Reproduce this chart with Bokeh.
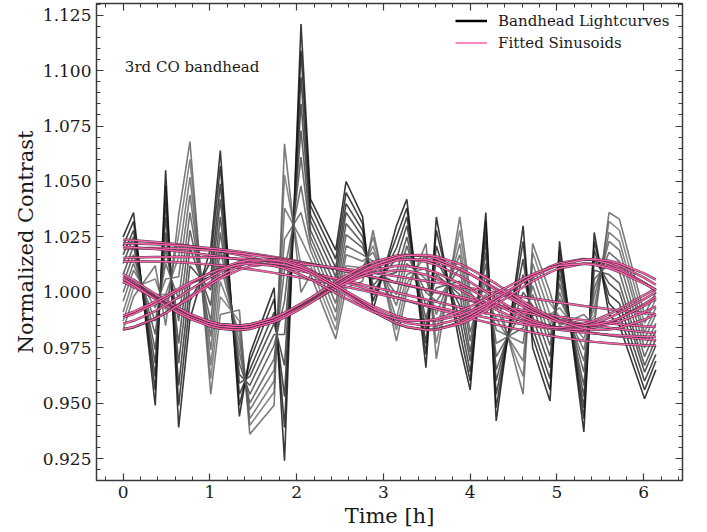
import numpy as np
from bokeh.plotting import figure
from bokeh.models import (Range1d, SingleIntervalTicker, LinearAxis, NumeralTickFormatter,
                          CustomJSTickFormatter, Label, Legend, LegendItem)
from bokeh.embed import file_html
from bokeh.resources import INLINE

# ---------------- data ----------------
times = [0.00, 0.12, 0.37, 0.49, 0.64, 0.77, 1.01, 1.12, 1.34, 1.46, 1.74, 1.86,
         2.05, 2.16, 2.45, 2.57, 2.76, 2.88, 3.15, 3.27, 3.49, 3.61, 3.88, 4.00,
         4.18, 4.30, 4.61, 4.72, 4.92, 5.03, 5.31, 5.43, 5.60, 5.72, 6.01, 6.14]

lc_01 = [1.025, 1.036, 0.949, 1.055, 0.939, 0.988, 1.020, 1.064, 0.944, 0.972, 1.002, 0.924,
         1.121, 1.042, 1.019, 1.050, 1.034, 0.992, 1.030, 1.042, 0.966, 1.034, 0.976, 0.956,
         1.036, 0.942, 1.030, 0.975, 0.951, 1.023, 0.937, 1.027, 0.990, 0.985, 0.952, 0.965]
lc_02 = [1.021, 1.032, 0.956, 1.048, 0.949, 0.996, 1.014, 1.057, 0.949, 0.969, 0.997, 0.939,
         1.109, 1.039, 1.015, 1.045, 1.031, 0.996, 1.025, 1.038, 0.972, 1.028, 0.982, 0.960,
         1.032, 0.948, 1.023, 0.980, 0.956, 1.019, 0.943, 1.023, 0.995, 0.990, 0.956, 0.969]
lc_03 = [1.017, 1.028, 0.962, 1.041, 0.958, 1.004, 1.007, 1.049, 0.954, 0.965, 0.991, 0.953,
         1.097, 1.035, 1.011, 1.040, 1.028, 0.999, 1.020, 1.034, 0.977, 1.021, 0.988, 0.964,
         1.027, 0.954, 1.015, 0.984, 0.961, 1.015, 0.948, 1.019, 0.999, 0.995, 0.960, 0.972]
lc_04 = [1.013, 1.025, 0.968, 1.034, 0.968, 1.012, 1.001, 1.042, 0.959, 0.962, 0.986, 0.967,
         1.085, 1.032, 1.007, 1.036, 1.025, 1.003, 1.015, 1.030, 0.983, 1.015, 0.994, 0.969,
         1.023, 0.960, 1.008, 0.989, 0.966, 1.012, 0.953, 1.015, 1.004, 1.000, 0.964, 0.976]
lc_05 = [1.008, 1.021, 0.974, 1.027, 0.977, 1.020, 0.994, 1.034, 0.963, 0.958, 0.981, 0.981,
         1.073, 1.028, 1.003, 1.031, 1.022, 1.006, 1.009, 1.025, 0.988, 1.008, 0.999, 0.973,
         1.018, 0.965, 1.000, 0.994, 0.971, 1.008, 0.958, 1.010, 1.008, 1.004, 0.967, 0.979]
lc_06 = [1.004, 1.017, 0.981, 1.020, 0.987, 1.028, 0.987, 1.027, 0.968, 0.954, 0.976, 0.996,
         1.061, 1.025, 0.999, 1.026, 1.020, 1.010, 1.004, 1.021, 0.994, 1.002, 1.005, 0.978,
         1.013, 0.971, 0.992, 0.999, 0.976, 1.004, 0.964, 1.006, 1.013, 1.009, 0.971, 0.983]
lc_07 = [1.000, 1.013, 0.987, 1.013, 0.997, 1.036, 0.980, 1.020, 0.973, 0.950, 0.970, 1.010,
         1.048, 1.022, 0.995, 1.021, 1.017, 1.014, 0.999, 1.017, 1.000, 0.996, 1.011, 0.982,
         1.008, 0.977, 0.984, 1.003, 0.980, 1.000, 0.969, 1.002, 1.018, 1.014, 0.975, 0.986]
lc_08 = [0.996, 1.010, 0.993, 1.006, 1.007, 1.044, 0.974, 1.013, 0.978, 0.947, 0.965, 1.024,
         1.036, 1.019, 0.991, 1.017, 1.014, 1.018, 0.994, 1.013, 1.006, 0.990, 1.017, 0.987,
         1.004, 0.983, 0.977, 1.008, 0.985, 0.997, 0.974, 0.998, 1.023, 1.019, 0.979, 0.990]
lc_09 = [0.991, 1.006, 0.999, 0.999, 1.016, 1.052, 0.967, 1.005, 0.982, 0.943, 0.960, 1.038,
         1.024, 1.015, 0.987, 1.012, 1.011, 1.021, 0.988, 1.008, 1.011, 0.983, 1.022, 0.991,
         0.999, 0.988, 0.969, 1.013, 0.990, 0.993, 0.979, 0.993, 1.027, 1.023, 0.982, 0.993]
lc_10 = [0.987, 1.002, 1.006, 0.992, 1.026, 1.060, 0.961, 0.998, 0.987, 0.940, 0.955, 1.053,
         1.012, 1.012, 0.983, 1.007, 1.008, 1.025, 0.983, 1.004, 1.017, 0.977, 1.028, 0.996,
         0.995, 0.994, 0.962, 1.018, 0.995, 0.989, 0.985, 0.989, 1.032, 1.028, 0.986, 0.997]
lc_11 = [0.983, 0.998, 1.012, 0.985, 1.035, 1.068, 0.954, 0.990, 0.992, 0.936, 0.949, 1.067,
         1.000, 1.008, 0.979, 1.002, 1.005, 1.028, 0.978, 1.000, 1.022, 0.970, 1.034, 1.000,
         0.990, 1.000, 0.954, 1.022, 1.000, 0.985, 0.990, 0.985, 1.036, 1.033, 0.990, 1.000]

lightcurves = [lc_01, lc_02, lc_03, lc_04, lc_05, lc_06, lc_07, lc_08, lc_09, lc_10, lc_11]
lc_colors = ["#000000", "#0d0d0d", "#1a1a1a", "#262626", "#333333", "#3f3f3f",
             "#4a4a4a", "#555555", "#5f5f5f", "#686868", "#555555"]

# fitted sinusoid parameters: offset + amp * cos(2*pi*(t - t_max)/period)
sin_offset = [1.000, 1.001, 1.002, 0.999, 1.002, 0.997,
              0.999, 1.000, 0.998, 1.001, 0.997, 1.000,
              1.000, 0.999, 1.001, 0.998, 1.000]
sin_amp = [0.024, 0.021, 0.018, 0.022, 0.014, 0.017,
           0.016, 0.015, 0.014, 0.016, 0.013, 0.017,
           0.015, 0.016, 0.014, 0.015, 0.013]
sin_period = [13.0, 14.0, 12.5, 15.0, 13.5, 12.0,
              3.9, 4.1, 3.8, 4.0, 3.7, 4.2,
              3.7, 3.6, 3.8, 3.65, 3.75]
sin_tmax = [-0.3, 0.0, 0.3, -0.5, 0.6, 0.2,
            3.25, 3.35, 3.20, 3.30, 3.15, 3.40,
            5.35, 5.30, 5.40, 5.35, 5.25]

x_ticks_interval = 1
y_ticks_interval = 0.025

PINK = "#ff5fae"
FONT = "DejaVu Serif"
FRAME = "#3a3a3a"
TXT = "#1a1a1a"

# ---------------- figure ----------------
p = figure(width=699, height=530, output_backend="svg", toolbar_location=None,
           x_range=Range1d(-0.307, 6.447), y_range=Range1d(0.9151, 1.1303),
           min_border_left=96, min_border_right=17, min_border_top=3, min_border_bottom=50)
p.xgrid.visible = False
p.ygrid.visible = False
p.outline_line_color = FRAME
p.outline_line_width = 1.5
p.outline_line_alpha = 1.0
p.background_fill_color = "white"
p.border_fill_color = "white"

xt = SingleIntervalTicker(interval=x_ticks_interval, num_minor_ticks=5)
yt = SingleIntervalTicker(interval=y_ticks_interval, num_minor_ticks=5)

def style_axis(ax):
    ax.axis_line_color = None
    ax.major_tick_in = 7
    ax.major_tick_out = 0
    ax.minor_tick_in = 4
    ax.minor_tick_out = 0
    ax.major_tick_line_color = FRAME
    ax.minor_tick_line_color = FRAME
    ax.major_tick_line_width = 1.2
    ax.minor_tick_line_width = 1
    ax.major_label_text_font = FONT
    ax.major_label_text_font_size = "17px"
    ax.major_label_text_color = TXT
    ax.axis_label_text_font = FONT
    ax.axis_label_text_font_size = "21px"
    ax.axis_label_text_font_style = "normal"
    ax.axis_label_text_color = TXT

p.xaxis.ticker = xt
p.yaxis.ticker = yt
p.yaxis.formatter = NumeralTickFormatter(format="0.000")
style_axis(p.xaxis[0])
style_axis(p.yaxis[0])
p.xaxis.axis_label = "Time [h]"
p.yaxis.axis_label = "Normalized Contrast"
p.xaxis.major_label_standoff = 5
p.yaxis.major_label_standoff = 5
p.xaxis.axis_label_standoff = 3
p.yaxis.axis_label_standoff = 2

blank = CustomJSTickFormatter(code="return ''")
for side, tk in (("right", SingleIntervalTicker(interval=y_ticks_interval, num_minor_ticks=5)),
                 ("above", SingleIntervalTicker(interval=x_ticks_interval, num_minor_ticks=5))):
    ax = LinearAxis(ticker=tk, formatter=blank)
    style_axis(ax)
    ax.major_label_standoff = 0
    p.add_layout(ax, side)

# lightcurves
for ys, col in zip(lightcurves, lc_colors):
    p.line(times, ys, line_color=col, line_width=1.6, line_alpha=0.78)

# fitted sinusoids (outlined pink lines)
t_arr = np.array(times)
for off, amp, per, tm in zip(sin_offset, sin_amp, sin_period, sin_tmax):
    ys = off + amp * np.cos(2 * np.pi * (t_arr - tm) / per)
    p.line(times, ys, line_color="#222222", line_width=2.5, line_alpha=0.85)
    p.line(times, ys, line_color=PINK, line_width=1.5)

# annotation text
p.add_layout(Label(x=0.02, y=1.1018, text="3rd CO bandhead", text_font=FONT,
                   text_font_size="15px", text_baseline="middle", text_color=TXT))

# legend (proxy renderers holding a single NaN point)
r_leg1 = p.line(x=[np.nan], y=[np.nan], line_color="black", line_width=2.6)
r_leg2 = p.line(x=[np.nan], y=[np.nan], line_color=PINK, line_width=1.4)
legend = Legend(items=[LegendItem(label="Bandhead Lightcurves", renderers=[r_leg1]),
                       LegendItem(label="Fitted Sinusoids", renderers=[r_leg2])],
                location="top_right", border_line_color=None, background_fill_alpha=0,
                label_text_font=FONT, label_text_font_size="15px", label_text_color=TXT,
                glyph_width=32, glyph_height=19, label_height=19, label_width=176,
                label_standoff=11, spacing=3, padding=2, margin=8)
p.add_layout(legend)

open("out.html", "w").write(file_html(p, INLINE))
